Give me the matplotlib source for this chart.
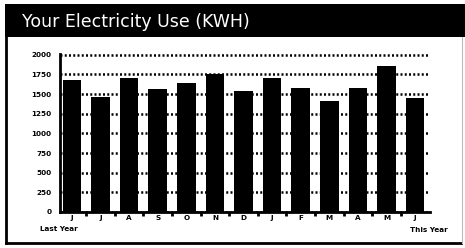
import matplotlib.pyplot as plt
from matplotlib.patches import Rectangle
from matplotlib.lines import Line2D

months = ["J", "J", "A", "S", "O", "N", "D", "J", "F", "M", "A", "M", "J"]
kwh = [1680, 1460, 1705, 1566, 1637, 1756, 1544, 1709, 1574, 1414, 1574, 1861, 1456]
yticks = [0, 250, 500, 750, 1000, 1250, 1500, 1750, 2000]
title = "Your Electricity Use (KWH)"

fig = plt.figure(figsize=(4.65, 2.48), dpi=100)
fig.patch.set_facecolor("white")

# header bar and panel frame
fig.patches.append(Rectangle((5 / 465, 1 - 37 / 248), 460 / 465, 33 / 248,
                             transform=fig.transFigure, facecolor="black",
                             edgecolor="none", zorder=0))
fig.lines.append(Line2D([6 / 465, 6 / 465], [1 - 37 / 248, 1 - 243 / 248],
                        transform=fig.transFigure, color="black", lw=2))
fig.lines.append(Line2D([6 / 465, 461 / 465], [1 - 243 / 248, 1 - 243 / 248],
                        transform=fig.transFigure, color="black", lw=2))
fig.lines.append(Line2D([462 / 465, 462 / 465], [1 - 37 / 248, 1 - 243 / 248],
                        transform=fig.transFigure, color="#bbbbbb", lw=0.8))
fig.text(22 / 465, 1 - 22 / 248, title, color="white", fontsize=12.5,
         va="center", ha="left")

ax = fig.add_axes([60 / 465, 1 - 212 / 248, 370 / 465, 158 / 248])
x = list(range(len(months)))
ax.bar(x, kwh, width=0.65, color="black", zorder=3)

ax.set_xlim(-0.42, 12.52)
ax.set_ylim(0, 2010)
ax.set_yticks(yticks)
ax.set_yticklabels([str(v) for v in yticks], fontsize=5.2, fontweight="bold")
ax.set_xticks(x)
ax.set_xticklabels(months, fontsize=5.2, fontweight="bold")
ax.set_xticks([i + 0.5 for i in x[:-1]], minor=True)
ax.tick_params(axis="x", which="major", length=0, pad=2)
ax.tick_params(axis="x", which="minor", length=3, width=2, direction="out")
ax.tick_params(axis="y", length=0, pad=6)

ax.yaxis.grid(True, color="black", lw=1.8, linestyle=(0, (0.8, 0.9)), zorder=1)
ax.set_axisbelow(True)
for s in ["top", "right"]:
    ax.spines[s].set_visible(False)
for s in ["left", "bottom"]:
    ax.spines[s].set_linewidth(2)
    ax.spines[s].set_zorder(4)

fig.text(40 / 465, 1 - 229 / 248, "Last Year", fontsize=5.2, fontweight="bold",
         va="center", ha="left")
fig.text(410 / 465, 1 - 230 / 248, "This Year", fontsize=5.2, fontweight="bold",
         va="center", ha="left")

fig.savefig("out.png", dpi=100)
